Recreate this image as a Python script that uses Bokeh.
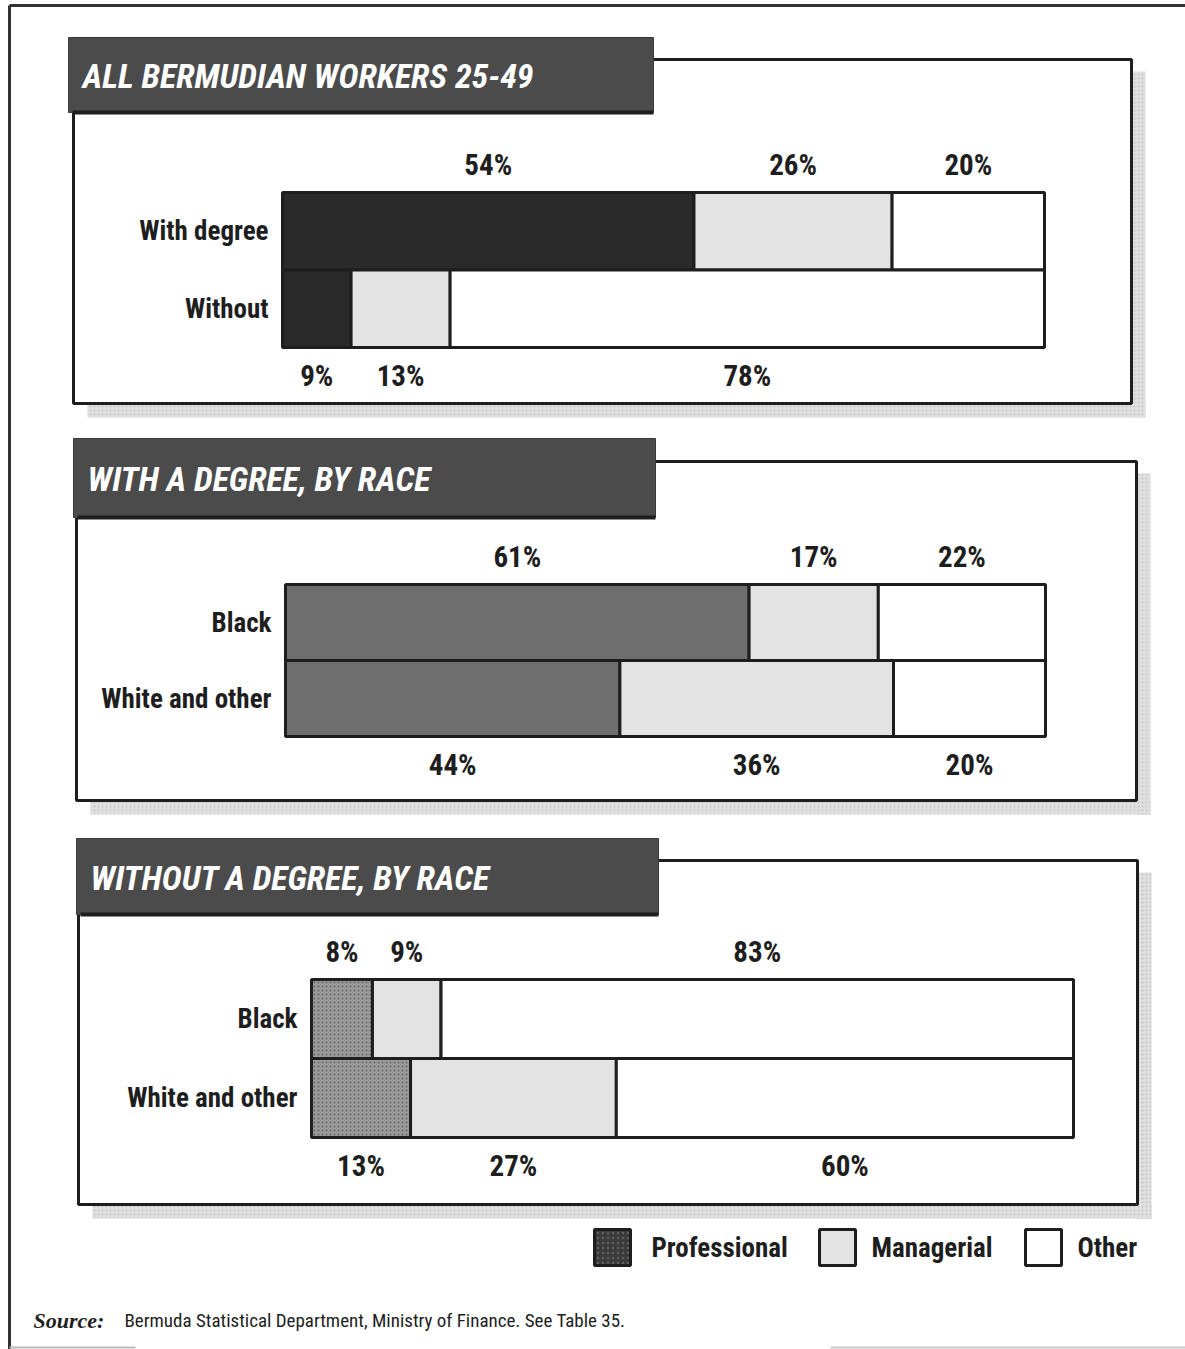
import numpy as np
from bokeh.plotting import figure
from bokeh.models import Range1d, ColumnDataSource
from bokeh.core.properties import value
from bokeh.embed import file_html
from bokeh.resources import INLINE

# ---------------- data ----------------
titles = ["ALL BERMUDIAN WORKERS 25-49", "WITH A DEGREE, BY RACE", "WITHOUT A DEGREE, BY RACE"]
rows1 = ["With degree", "Without"]
prof1 = [54, 9]
mgr1 = [26, 13]
oth1 = [20, 78]
rows2 = ["Black", "White and other"]
prof2 = [61, 44]
mgr2 = [17, 36]
oth2 = [22, 20]
rows3 = ["Black", "White and other"]
prof3 = [8, 13]
mgr3 = [9, 27]
oth3 = [83, 60]
legend_labels = ["Professional", "Managerial", "Other"]
source_text = "Bermuda Statistical Department, Ministry of Finance.  See Table 35."

# ---------------- styling / layout ----------------
W, H = 1185, 1349
COND = "Roboto Condensed, Roboto, sans-serif"
BLACK = "#1e1e1e"
MGR_COLOR = "#e3e3e3"
OTH_COLOR = "#ffffff"
HEADER_COLOR = "#4b4b4b"
SHADOW = "#e0e0e0"

panels = [
    dict(rows=rows1, prof=prof1, mgr=mgr1, oth=oth1, title=titles[0],
         bx0=282, bx1=1044, ytop=192, rh=77.5,
         header=(68, 37, 653, 112), frame=(73, 59, 1131, 403),
         prof_color="#2a2a2a", hatch=None),
    dict(rows=rows2, prof=prof2, mgr=mgr2, oth=oth2, title=titles[1],
         bx0=285, bx1=1045, ytop=584, rh=76,
         header=(73, 438, 655, 517), frame=(76, 461, 1136, 800),
         prof_color="#6e6e6e", hatch=None),
    dict(rows=rows3, prof=prof3, mgr=mgr3, oth=oth3, title=titles[2],
         bx0=311, bx1=1073, ytop=979, rh=79,
         header=(76, 838, 658, 914), frame=(78, 860, 1137, 1204),
         prof_color="#9a9a9a", hatch="dot"),
]

p = figure(width=W, height=H, x_range=Range1d(0, W), y_range=Range1d(H, 0),
           output_backend="svg", toolbar_location=None, min_border=0,
           x_axis_location=None, y_axis_location=None)
p.grid.visible = False
p.outline_line_color = None
p.background_fill_color = "white"
p.border_fill_color = "white"

# outer page border
p.line(x=[9, W], y=[5, 5], line_color="#333333", line_width=3)
p.line(x=[9, 9], y=[5, H], line_color="#333333", line_width=3)
p.line(x=[9, 135], y=[1347, 1347], line_color="#bbbbbb", line_width=2)
p.line(x=[830, W], y=[1347, 1347], line_color="#cccccc", line_width=2)

for i, pn in enumerate(panels):
    hx0, hy0, hx1, hy1 = pn["header"]
    fx0, fy0, fx1, fy1 = pn["frame"]
    # shadow
    p.quad(left=[fx1], right=[fx1 + 14], top=[fy0 + 12], bottom=[fy1 + 14],
           fill_color=SHADOW, line_color=None, hatch_pattern="dot",
           hatch_color="#aaaaaa", hatch_scale=4, hatch_alpha=0.5)
    p.quad(left=[fx0 + 14], right=[fx1 + 14], top=[fy1], bottom=[fy1 + 14],
           fill_color=SHADOW, line_color=None, hatch_pattern="dot",
           hatch_color="#aaaaaa", hatch_scale=4, hatch_alpha=0.5)
    # frame
    p.quad(left=[fx0], right=[fx1], top=[fy0], bottom=[fy1],
           fill_color="white", line_color=BLACK, line_width=3)
    # header
    p.quad(left=[hx0], right=[hx1], top=[hy0], bottom=[hy1],
           fill_color=HEADER_COLOR, line_color="#3a3a3a", line_width=1)
    p.line(x=[hx0 + 4, hx1], y=[hy1, hy1], line_color=BLACK, line_width=4)
    p.text(x=[hx0 + 14], y=[(hy0 + hy1) / 2 + 1], text=[pn["title"]],
           text_font=value(COND), text_font_size="34px", text_font_style="bold italic",
           text_color="white", text_baseline="middle", text_align="left")

    # panel ranges (0..100 % maps onto the bar span)
    bx0, bx1, ytop, rh = pn["bx0"], pn["bx1"], pn["ytop"], pn["rh"]
    span = bx1 - bx0
    xr = Range1d((0 - bx0) / span * 100, (W - bx0) / span * 100)
    yr = Range1d((H - ytop) / rh - 0.5, (0 - ytop) / rh - 0.5)
    xname, yname = f"px{i}", f"py{i}"
    p.extra_x_ranges[xname] = xr
    p.extra_y_ranges[yname] = yr

    prof = np.array(pn["prof"], dtype=float)
    mgr = np.array(pn["mgr"], dtype=float)
    oth = np.array(pn["oth"], dtype=float)
    ypos = np.arange(len(pn["rows"]), dtype=float)
    lefts = [np.zeros_like(prof), prof, prof + mgr]
    widths = [prof, mgr, oth]
    colors = [pn["prof_color"], MGR_COLOR, OTH_COLOR]

    for k in range(3):
        src = ColumnDataSource(dict(y=ypos, left=lefts[k], right=lefts[k] + widths[k]))
        kw = {}
        if k == 0 and pn["hatch"]:
            kw = dict(hatch_pattern=pn["hatch"], hatch_color="#5a5a5a", hatch_scale=4, hatch_alpha=0.8)
        p.hbar(y="y", left="left", right="right", height=1.0, source=src,
               fill_color=colors[k], line_color=BLACK, line_width=3,
               x_range_name=xname, y_range_name=yname, **kw)

    # percentage labels
    gap = 28 / rh
    for r in range(len(ypos)):
        ly = ypos[r] - 0.5 - gap if r == 0 else ypos[r] + 0.5 + gap
        mids = [lefts[k][r] + widths[k][r] / 2 for k in range(3)]
        txt = [f"{int(widths[k][r])}%" for k in range(3)]
        p.text(x=mids, y=[ly] * 3, text=txt, text_font=value(COND),
               text_font_size="29px", text_font_style="bold", text_color=BLACK,
               text_align="center", text_baseline="middle",
               x_range_name=xname, y_range_name=yname)

    # row labels
    p.text(x=[0] * len(ypos), y=ypos, text=pn["rows"], x_offset=-14,
           text_font=value(COND), text_font_size="27px", text_font_style="bold",
           text_color=BLACK, text_align="right", text_baseline="middle",
           x_range_name=xname, y_range_name=yname)

# legend
sw_x = [594, 819, 1025]
tx_x = [651, 871, 1077]
sw_colors = ["#3a3a3a", MGR_COLOR, OTH_COLOR]
for j in range(3):
    kw = {}
    if j == 0:
        kw = dict(hatch_pattern="dot", hatch_color="#777777", hatch_scale=5, hatch_alpha=0.6)
    p.quad(left=[sw_x[j]], right=[sw_x[j] + 36], top=[1229], bottom=[1265],
           fill_color=sw_colors[j], line_color=BLACK, line_width=3, **kw)
    p.text(x=[tx_x[j]], y=[1247], text=[legend_labels[j]], text_font=value(COND),
           text_font_size="27px", text_font_style="bold", text_color=BLACK,
           text_align="left", text_baseline="middle")

# source
p.text(x=[33], y=[1320], text=["Source:"], text_font=value("Liberation Serif"),
       text_font_size="22px", text_font_style="bold italic", text_color=BLACK,
       text_baseline="middle")
p.text(x=[124], y=[1320], text=[source_text], text_font=value(COND),
       text_font_size="19px", text_color=BLACK, text_baseline="middle")

open("out.html", "w").write(file_html(p, INLINE))
